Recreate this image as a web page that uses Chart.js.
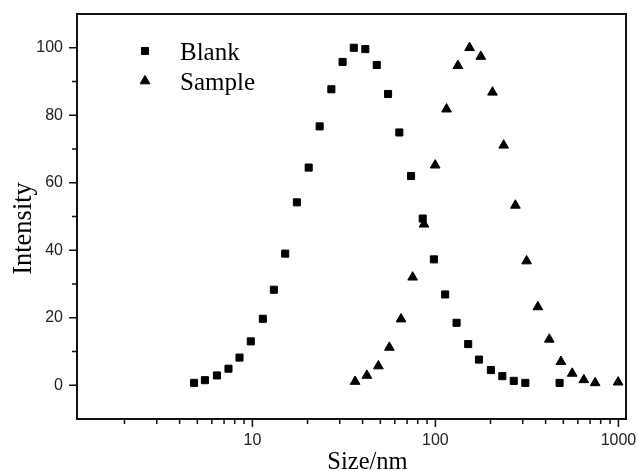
<!DOCTYPE html>
<html>
<head>
<meta charset="utf-8">
<script src="https://cdn.jsdelivr.net/npm/chart.js@4.4.0/dist/chart.umd.min.js"></script>
<style>
  html, body { margin: 0; padding: 0; background: #fff; }
  #wrap { width: 638px; height: 471px; }
</style>
</head>
<body>
<div id="wrap"><canvas id="sizeChart"></canvas></div>
<script>
// values (size in nm, intensity in %)
const blankSize = [4.8, 5.5, 6.4, 7.4, 8.5, 9.8, 11.4, 13.1, 15.1, 17.5, 20.3, 23.3, 27.0, 31.1, 35.8, 41.4,
  47.8, 55.1, 63.5, 73.6, 85.2, 98.1, 113, 130.5, 151, 173, 201, 232, 268, 310, 477];
const blankIntensity = [0.7, 1.5, 2.9, 4.9, 8.2, 13.0, 19.7, 28.3, 39.0, 54.2, 64.5, 76.7, 87.7, 95.8, 100, 99.6,
  94.9, 86.3, 74.9, 62.0, 49.4, 37.3, 26.9, 18.5, 12.2, 7.6, 4.5, 2.7, 1.3, 0.7, 0.7];

const sampleSize = [36.4, 42.2, 48.8, 56.0, 64.9, 75.1, 86.6, 99.7, 115, 132.7, 153.6, 177, 205, 236, 273.5,
  315, 363, 419, 485, 559, 647, 746, 996];
const sampleIntensity = [1.1, 2.9, 5.7, 11.2, 19.6, 32.0, 47.7, 65.2, 81.8, 94.7, 100, 97.4, 86.8, 71.1, 53.3,
  36.8, 23.2, 13.6, 7.0, 3.5, 1.6, 0.7, 0.9];

const xTickLabels = [10, 100, 1000];
const yTickLabels = [0, 20, 40, 60, 80, 100];
const seriesNames = ['Blank', 'Sample'];
const xTitle = 'Size/nm';
const yTitle = 'Intensity';

// minor ticks 2..9 in each decade, plus the labelled ones
const xTickValues = [];
[1, 10, 100].forEach(function(d) {
  for (let m = 2; m <= 9; m++) xTickValues.push(m * d);
  xTickValues.push(d * 10);
});

const serif = "'Liberation Serif', 'Times New Roman', serif";
const sans = "'Liberation Sans', Arial, sans-serif";

function toPoints(xs, ys) {
  return xs.map(function(x, i) { return { x: x, y: ys[i] }; });
}

// outward tick marks and the closed frame
const frameTicks = {
  id: 'frameTicks',
  afterDraw(chart) {
    const { ctx, chartArea, scales } = chart;
    const x = scales.x, y = scales.y;
    ctx.save();
    ctx.strokeStyle = '#111';
    ctx.lineWidth = 1.5;
    ctx.beginPath();
    x.ticks.forEach(function(t) {
      const px = x.getPixelForValue(t.value);
      const len = xTickLabels.includes(t.value) ? 8 : 5;
      ctx.moveTo(px, chartArea.bottom);
      ctx.lineTo(px, chartArea.bottom + len);
    });
    y.ticks.forEach(function(t) {
      if (t.value <= y.min || t.value >= y.max) return;
      const py = y.getPixelForValue(t.value);
      const len = yTickLabels.includes(t.value) ? 8 : 5;
      ctx.moveTo(chartArea.left, py);
      ctx.lineTo(chartArea.left - len, py);
    });
    ctx.stroke();
    ctx.lineWidth = 2;
    ctx.strokeRect(chartArea.left, chartArea.top, chartArea.right - chartArea.left, chartArea.bottom - chartArea.top);
    ctx.restore();
  }
};

// axis titles, placed a little off-centre like the original
const axisTitles = {
  id: 'axisTitles',
  afterDraw(chart) {
    const { ctx, chartArea } = chart;
    ctx.save();
    ctx.fillStyle = '#000';
    ctx.textAlign = 'center';
    ctx.textBaseline = 'alphabetic';
    ctx.font = '24.5px ' + serif;
    ctx.fillText(xTitle, (chartArea.left + chartArea.right) / 2 + 16, chart.height - 2.5);
    ctx.translate(31, (chartArea.top + chartArea.bottom) / 2 + 12);
    ctx.rotate(-Math.PI / 2);
    ctx.font = '26.5px ' + serif;
    ctx.fillText(yTitle, 0, 0);
    ctx.restore();
  }
};

// legend inside the plot, top left
const innerLegend = {
  id: 'innerLegend',
  afterDraw(chart) {
    const { ctx, chartArea } = chart;
    const mx = chartArea.left + 68;
    const tx = chartArea.left + 103;
    ctx.save();
    ctx.fillStyle = '#000';
    ctx.strokeStyle = '#000';
    ctx.font = '25px ' + serif;
    ctx.textBaseline = 'alphabetic';
    chart.data.datasets.forEach(function(ds, i) {
      const my = chartArea.top + 37 + i * 30;
      Chart.helpers.drawPoint(ctx, {
        pointStyle: ds.pointStyle, radius: ds.pointRadius, borderWidth: 1
      }, mx, my);
      ctx.fillStyle = '#000';
      ctx.fillText(seriesNames[i], tx, chartArea.top + 46 + i * 30);
    });
    ctx.restore();
  }
};

new Chart(document.getElementById('sizeChart'), {
  type: 'scatter',
  data: {
    datasets: [{
      label: seriesNames[0],
      data: toPoints(blankSize, blankIntensity),
      pointStyle: 'rect',
      pointRadius: 5,
      borderWidth: 1,
      backgroundColor: '#000',
      borderColor: '#000'
    }, {
      label: seriesNames[1],
      data: toPoints(sampleSize, sampleIntensity),
      pointStyle: 'triangle',
      pointRadius: 5.6,
      borderWidth: 1,
      backgroundColor: '#000',
      borderColor: '#000'
    }]
  },
  options: {
    responsive: true,
    maintainAspectRatio: false,
    animation: false,
    layout: { padding: { top: 14, right: 12, left: 0, bottom: 0 } },
    plugins: { legend: { display: false }, tooltip: { enabled: false } },
    scales: {
      x: {
        type: 'logarithmic',
        min: 1.1,
        max: 1100,
        grid: { display: false, drawTicks: true, tickLength: 8 },
        border: { display: false },
        afterBuildTicks: function(s) { s.ticks = xTickValues.map(function(v) { return { value: v }; }); },
        afterFit: function(s) { s.height = 52; s.paddingLeft = 0; s.paddingRight = 0; },
        ticks: {
          autoSkip: false,
          maxRotation: 0,
          padding: 4,
          color: '#222',
          font: { family: sans, size: 16 },
          callback: function(v) { return xTickLabels.includes(v) ? String(v) : ''; }
        },
        title: { display: false, text: xTitle }
      },
      y: {
        min: -10,
        max: 110,
        grid: { display: false, drawTicks: true, tickLength: 8 },
        border: { display: false },
        afterFit: function(s) { s.width = 77; s.paddingTop = 0; s.paddingBottom = 0; },
        ticks: {
          stepSize: 10,
          padding: 6,
          color: '#222',
          font: { family: sans, size: 16 },
          callback: function(v) { return yTickLabels.includes(v) ? String(v) : ''; }
        },
        title: { display: false, text: yTitle }
      }
    }
  },
  plugins: [frameTicks, axisTitles, innerLegend]
});
</script>
</body>
</html>
